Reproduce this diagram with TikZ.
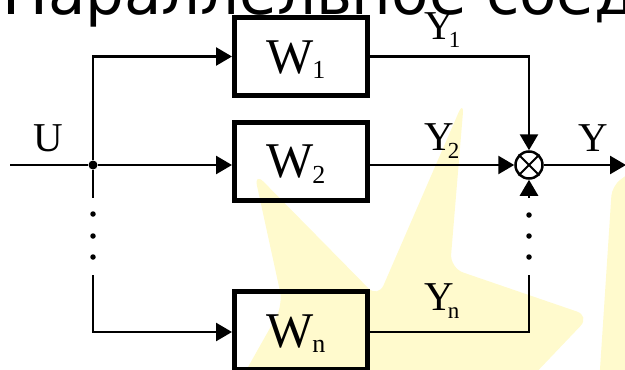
\documentclass[tikz,border=0pt]{standalone}
\usepackage{fontspec}
\setmainfont{Liberation Serif}
\newfontfamily\titlefont{DejaVu Sans}
\usetikzlibrary{arrows.meta}
\definecolor{starfill}{RGB}{255,250,205}
\newcommand{\subsc}[2]{\kern#1pt\raisebox{-8pt}{\fontsize{#2}{#2}\selectfont}}
\begin{document}
\begin{tikzpicture}[x=1pt,y=-1pt,
  blk/.style={draw, line width=5pt, minimum width=133pt, minimum height=78pt, inner sep=0pt},
  wire/.style={line width=2.6pt},
  arr/.style={wire, -{Triangle[length=16pt,width=18pt]}},
  dotn/.style={circle, fill, inner sep=0pt, minimum size=5.5pt},
  wlbl/.style={anchor=base west, inner sep=0pt, font=\fontsize{50}{50}\selectfont},
  ylbl/.style={anchor=base west, inner sep=0pt, font=\fontsize{41}{41}\selectfont}]
\useasboundingbox (0,0) rectangle (625,370);
\begin{scope}
\clip (0,0) rectangle (625,370);
% pale star in the background
\fill[starfill, rounded corners=14pt]
  (464,100) -- (450,268) -- (590,316) -- (510,400) -- (560,560) --
  (400,440) -- (190,470) -- (283,305) -- (254,172) -- (378,298) -- cycle;
\fill[starfill, rounded corners=10pt]
  (612,186) -- (660,150) -- (660,400) -- (598,400) -- cycle;
% heading, cut by the upper edge
\node[anchor=base west, inner sep=0pt, font=\titlefont\fontsize{61}{61}\selectfont] (title) at (2,14) {Параллельное соединение};
\end{scope}

% blocks
\node[blk] (w1) at (301,56.5) {};
\node[blk] (w2) at (301,161) {};
\node[blk] (wn) at (301,330) {};
\node[wlbl] (w1t) at (266,73) {W\kern-1pt\raisebox{-5pt}{\fontsize{26}{26}\selectfont 1}};
\node[wlbl] (w2t) at (266,177) {W\kern-1pt\raisebox{-6pt}{\fontsize{26}{26}\selectfont 2}};
\node[wlbl] (wnt) at (266,347) {W\kern-1pt\raisebox{-5pt}{\fontsize{26}{26}\selectfont n}};

% summing junction
\node[circle, draw, line width=2.5pt, minimum size=27pt, inner sep=0pt] (sum) at (529,165) {};
\draw[line width=2pt] (sum.north west) -- (sum.south east) (sum.north east) -- (sum.south west);

% branching point and dots
\node[circle, fill, inner sep=0pt, minimum size=9pt] (j) at (93,165) {};
\coordinate (uin) at (10,165);
\coordinate (jd) at (93,198);
\coordinate (ju) at (93,275);
\node[dotn] (l1) at (93,214) {};
\node[dotn] (l2) at (93,236) {};
\node[dotn] (l3) at (93,257) {};
\coordinate (sd) at (529,198);
\coordinate (su) at (529,275);
\node[dotn] (r1) at (529,215) {};
\node[dotn] (r2) at (529,236) {};
\node[dotn] (r3) at (529,257) {};
\coordinate (yout) at (626,165);

% connectors
\draw[arr] (uin) -- (j) -- (w2.west |- j);
\draw[arr] (j) |- (w1.west);
\draw[wire] (j) -- (jd);
\draw[arr] (ju) |- ([yshift=-2pt]wn.west);
\draw[arr] (w1.east) -| (sum.north);
\draw[arr] (w2.east |- j) -- (sum.west);
\draw[wire] ([yshift=-2pt]wn.east) -| (su);
\draw[arr] (sd) -- (sum.south);
\draw[arr] (sum.east) -- (yout);

% signal labels
\node[ylbl] (u) at (33,151) {U};
\node[ylbl] (y) at (578,151) {Y};
\node[ylbl] (y1) at (424,39) {Y\kern-5pt\raisebox{-8pt}{\fontsize{23}{23}\selectfont 1}};
\node[ylbl] (y2) at (424,150) {Y\kern-6pt\raisebox{-8pt}{\fontsize{23}{23}\selectfont 2}};
\node[ylbl] (yn) at (424,310) {Y\kern-6pt\raisebox{-8pt}{\fontsize{23}{23}\selectfont n}};
\end{tikzpicture}
\end{document}
